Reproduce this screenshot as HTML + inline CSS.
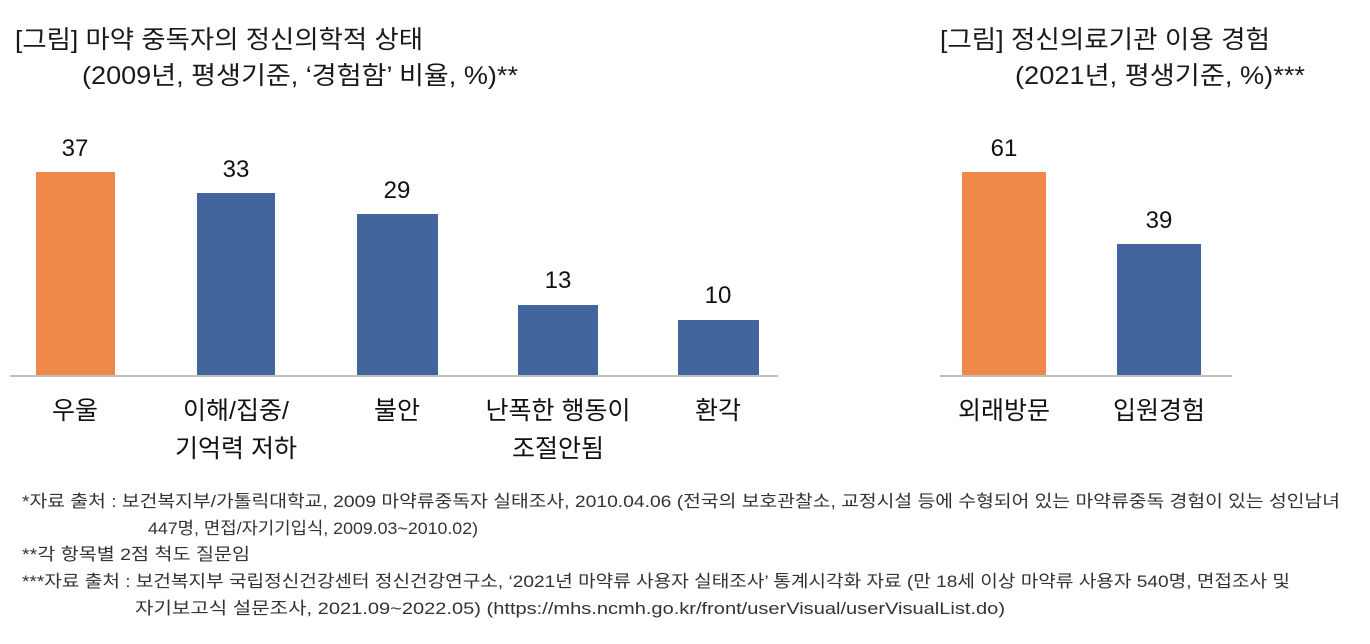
<!DOCTYPE html>
<html><head><meta charset="utf-8"><style>
html,body{margin:0;padding:0;background:#fff;width:1370px;height:644px;overflow:hidden}
svg{display:block}
text{font-family:"Liberation Sans","Noto Sans CJK KR",sans-serif}
</style></head><body>
<svg width="1370" height="644" viewBox="0 0 1370 644">
<g fill="#1a1a1a" font-size="25">
<text x="15" y="48" textLength="408" lengthAdjust="spacingAndGlyphs">[그림] 마약 중독자의 정신의학적 상태</text>
<text x="82" y="84" textLength="436" lengthAdjust="spacingAndGlyphs">(2009년, 평생기준, ‘경험함’ 비율, %)**</text>
<text x="940" y="48" textLength="330" lengthAdjust="spacingAndGlyphs">[그림] 정신의료기관 이용 경험</text>
<text x="1015" y="84" textLength="290" lengthAdjust="spacingAndGlyphs">(2021년, 평생기준, %)***</text>
</g>
<line x1="10" y1="376" x2="778" y2="376" stroke="#bfbfbf" stroke-width="2"/>
<line x1="940" y1="376" x2="1232" y2="376" stroke="#bfbfbf" stroke-width="2"/>
<rect x="36" y="172" width="79" height="203" fill="#f0884a"/>
<rect x="197" y="193" width="78" height="182" fill="#43659e"/>
<rect x="357" y="214" width="81" height="161" fill="#43659e"/>
<rect x="518" y="305" width="80" height="70" fill="#43659e"/>
<rect x="678" y="320" width="81" height="55" fill="#43659e"/>
<rect x="962" y="172" width="84" height="203" fill="#f0884a"/>
<rect x="1117" y="244" width="84" height="131" fill="#43659e"/>
<g fill="#111" font-size="24" text-anchor="middle">
<text x="75" y="156">37</text>
<text x="236" y="177">33</text>
<text x="397" y="198">29</text>
<text x="558" y="288">13</text>
<text x="718" y="303">10</text>
<text x="1004" y="156">61</text>
<text x="1159" y="228">39</text>
</g>
<g fill="#111" font-size="25" text-anchor="middle">
<text x="75" y="419">우울</text>
<text x="236" y="419">이해/집중/</text>
<text x="236" y="457">기억력 저하</text>
<text x="397" y="419">불안</text>
<text x="558" y="419">난폭한 행동이</text>
<text x="558" y="457">조절안됨</text>
<text x="718" y="419">환각</text>
<text x="1004" y="419">외래방문</text>
<text x="1159" y="419">입원경험</text>
</g>
<g fill="#333" font-size="17">
<text x="22" y="507" textLength="1318" lengthAdjust="spacingAndGlyphs">*자료 출처 : 보건복지부/가톨릭대학교, 2009 마약류중독자 실태조사, 2010.04.06 (전국의 보호관찰소, 교정시설 등에 수형되어 있는 마약류중독 경험이 있는 성인남녀</text>
<text x="148" y="534" textLength="330" lengthAdjust="spacingAndGlyphs">447명, 면접/자기기입식, 2009.03~2010.02)</text>
<text x="22" y="560" textLength="228" lengthAdjust="spacingAndGlyphs">**각 항목별 2점 척도 질문임</text>
<text x="22" y="587" textLength="1268" lengthAdjust="spacingAndGlyphs">***자료 출처 : 보건복지부 국립정신건강센터 정신건강연구소, ‘2021년 마약류 사용자 실태조사’ 통계시각화 자료 (만 18세 이상 마약류 사용자 540명, 면접조사 및</text>
<text x="135" y="614" textLength="870" lengthAdjust="spacingAndGlyphs">자기보고식 설문조사, 2021.09~2022.05) (https://mhs.ncmh.go.kr/front/userVisual/userVisualList.do)</text>
</g>
</svg>
</body></html>
